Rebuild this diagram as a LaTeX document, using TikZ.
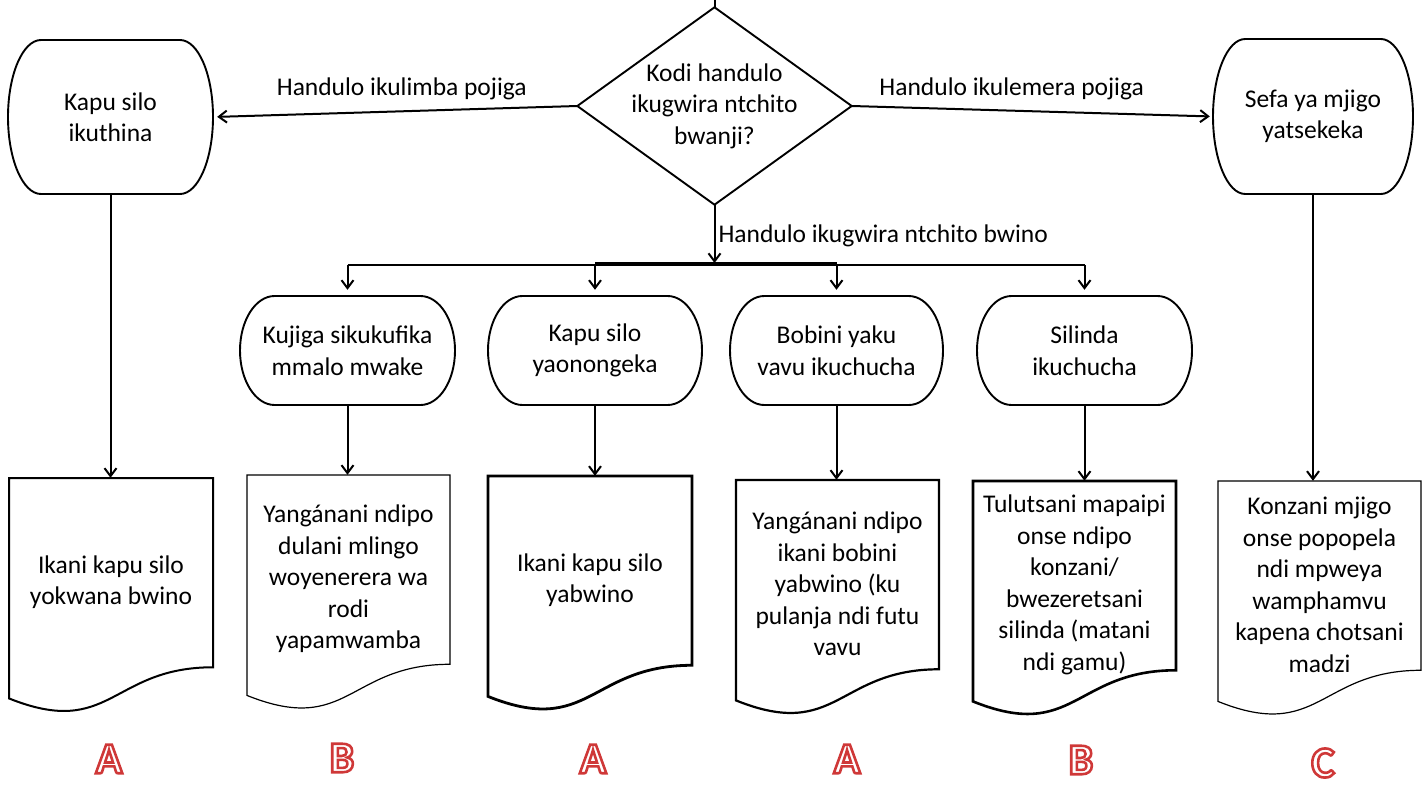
\documentclass[tikz,border=0pt]{standalone}
\usepackage{fontspec}
\setmainfont{Carlito}
\usetikzlibrary{arrows.meta,calc}
\definecolor{lred}{RGB}{206,56,56}
\newcommand\bodyfont{\fontsize{25.5bp}{31.5bp}\selectfont}
\newcommand\letterfont{\fontsize{44bp}{44bp}\selectfont\bfseries}
\newcommand\outlined[1]{\special{pdf:literal direct 2 Tr 2.6 w 0.81 0.22 0.22 RG}#1\special{pdf:literal direct 0 Tr 1 w 0 0 0 RG}}
\tikzset{
  txt/.style={font=\bodyfont, align=center, inner sep=0pt},
  conn/.style={line width=2bp},
  arr/.style={conn, -{Straight Barb[length=8bp,width=12bp]}},
  shapeline/.style={line width=1.9bp, line join=round},
  lbl/.style={font=\bodyfont, inner sep=0pt},
  letter/.style={font=\letterfont, inner sep=0pt, text=white}
}
% terminator: name, cx, cy, w, h, text
\newcommand\termnode[6]{%
  \node[txt, minimum width=#4bp, minimum height=#5bp] (#1) at (#2,#3) {#6};
  \pgfmathsetmacro\tmL{#2-#4/2}\pgfmathsetmacro\tmR{#2+#4/2}%
  \pgfmathsetmacro\tmT{#3-#5/2}\pgfmathsetmacro\tmB{#3+#5/2}%
  \pgfmathsetmacro\tmM{#3}\pgfmathsetmacro\tmX{0.161*#4}\pgfmathsetmacro\tmY{#5/2}%
  \draw[shapeline] ({\tmL+\tmX},\tmT) -- ({\tmR-\tmX},\tmT)
    .. controls ({\tmR-0.448*\tmX},\tmT) and (\tmR,{\tmM-0.552*\tmY}) .. (\tmR,\tmM)
    .. controls (\tmR,{\tmM+0.552*\tmY}) and ({\tmR-0.448*\tmX},\tmB) .. ({\tmR-\tmX},\tmB)
    -- ({\tmL+\tmX},\tmB)
    .. controls ({\tmL+0.448*\tmX},\tmB) and (\tmL,{\tmM+0.552*\tmY}) .. (\tmL,\tmM)
    .. controls (\tmL,{\tmM-0.552*\tmY}) and ({\tmL+0.448*\tmX},\tmT) .. cycle;
}
% document: name, x0, y0, w, h, line width, text
\newcommand\docnode[7]{%
  \node[txt, minimum width=#4bp, minimum height=208bp] (#1) at ({#2+#4/2},{#3+104}) {#7};
  \pgfmathsetmacro\dL{#2}\pgfmathsetmacro\dR{#2+#4}%
  \pgfmathsetmacro\dT{#3}\pgfmathsetmacro\dW{#4}\pgfmathsetmacro\dH{#5}%
  \draw[line width=#6bp, line join=miter] (\dL,\dT) -- (\dR,\dT) -- (\dR,{\dT+0.802*\dH})
    .. controls ({\dL+0.5*\dW},{\dT+0.802*\dH}) and ({\dL+0.5*\dW},{\dT+1.107*\dH}) .. (\dL,{\dT+0.934*\dH})
    -- cycle;
}
\begin{document}
\begin{tikzpicture}[x=1bp,y=-1bp]
\useasboundingbox (0,0) rectangle (1423,787);

% decision
\node[txt, minimum width=274bp, minimum height=197bp] (dec) at (714.5,106) {Kodi handulo\\ikugwira ntchito\\bwanji?};
\draw[shapeline, line join=miter] (dec.north) -- (dec.east) -- (dec.south) -- (dec.west) -- cycle;
\coordinate (top) at (714.5,0);
\draw[conn] (top) -- (dec.north);

% terminators
\termnode{t1}{110.5}{117}{205}{154}{Kapu silo\\ikuthina}
\termnode{t2}{1313}{116.5}{200}{155}{Sefa ya mjigo\\yatsekeka}
\termnode{m1}{347.5}{350.5}{215}{109}{Kujiga sikukufika\\mmalo mwake}
\termnode{m2}{595}{350.5}{214}{109}{Kapu silo\\yaonongeka}
\termnode{m3}{836.5}{350.5}{213}{109}{Bobini yaku\\vavu ikuchucha}
\termnode{m4}{1084.5}{350.5}{215}{109}{Silinda\\ikuchucha}

% documents
\docnode{dA1}{9}{478}{204}{236}{2.0}{Ikani kapu silo\\yokwana bwino}
\docnode{dB1}{247}{475}{203}{236}{1.2}{Yangánani ndipo\\dulani mlingo\\woyenerera wa\\rodi\\yapamwamba}
\docnode{dA2}{488}{476}{204}{236}{2.8}{Ikani kapu silo\\yabwino}
\docnode{dA3}{736}{480}{203}{236}{2.2}{Yangánani ndipo\\ikani bobini\\yabwino (ku\\pulanja ndi futu\\vavu}
\docnode{dB2}{973}{481}{203}{236}{2.6}{Tulutsani mapaipi\\onse ndipo\\konzani/\\bwezeretsani\\silinda (matani\\ndi gamu)}
\docnode{dC}{1218}{481}{203}{236}{1.2}{Konzani mjigo\\onse popopela\\ndi mpweya\\wamphamvu\\kapena chotsani\\madzi}

% side branches
\draw[arr, shorten >=4bp] (dec.west) -- node[lbl, pos=0.482, anchor=south, yshift=10bp] {Handulo ikulimba pojiga} (t1.east);
\draw[arr, shorten >=3bp] (dec.east) -- node[lbl, pos=0.443, anchor=south, yshift=10bp] {Handulo ikulemera pojiga} (t2.east -| t2.west);

% main branch and bus
\coordinate (bus) at (714.5,265);
\coordinate (b1) at (347.5,265);
\coordinate (b2) at (595,265);
\coordinate (b3) at (836.5,265);
\coordinate (b4) at (1084.5,265);
\draw[arr, shorten >=2bp] (dec.south) -- node[lbl, pos=0.52, anchor=west, xshift=3bp] {Handulo ikugwira ntchito bwino} (bus);
\draw[conn] (b1) -- (b4);
\draw[conn] ([yshift=2.5bp]b2) -- ([yshift=2.5bp]b3);
\foreach \i in {1,2,3,4} {
  \draw[arr, shorten >=6bp] (b\i) -- (m\i.north);
}

% down to documents
\draw[arr] (t1.south) -- (t1.south |- dA1.north);
\draw[arr] (m1.south) -- (m1.south |- dB1.north);
\draw[arr] (m2.south) -- (m2.south |- dA2.north);
\draw[arr] (m3.south) -- (m3.south |- dA3.north);
\draw[arr] (m4.south) -- (m4.south |- dB2.north);
\draw[arr] (t2.south) -- (t2.south |- dC.north);

% grade letters
\node[letter] (g1) at (109,759) {\outlined{A}};
\node[letter] (g2) at (342,758) {\outlined{B}};
\node[letter] (g3) at (593,759) {\outlined{A}};
\node[letter] (g4) at (847,759) {\outlined{A}};
\node[letter] (g5) at (1081,760) {\outlined{B}};
\node[letter] (g6) at (1323,763) {\outlined{C}};
\end{tikzpicture}
\end{document}
